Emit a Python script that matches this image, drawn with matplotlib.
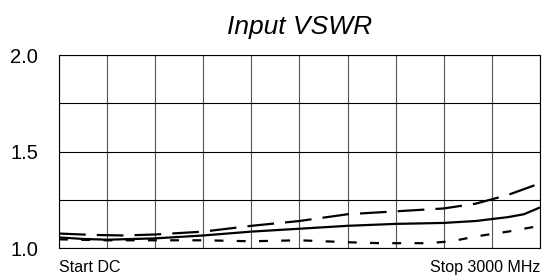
import matplotlib.pyplot as plt
import numpy as np

plt.rc('font', family='Liberation Sans')

# frequency in MHz
f_solid  = [0, 150, 300, 600, 900, 1200, 1500, 1800, 2100, 2400, 2600, 2800, 2900, 3000]
v_solid  = [1.055, 1.047, 1.043, 1.05, 1.065, 1.085, 1.10, 1.115, 1.125, 1.13, 1.14, 1.16, 1.175, 1.21]

f_dash   = [0, 200, 400, 600, 900, 1200, 1500, 1800, 2100, 2400, 2600, 2800, 3000]
v_dash   = [1.075, 1.068, 1.065, 1.07, 1.085, 1.115, 1.14, 1.175, 1.19, 1.205, 1.23, 1.275, 1.335]

f_dot    = [0, 300, 600, 900, 1200, 1500, 1800, 2000, 2300, 2450, 2600, 2800, 3000]
v_dot    = [1.045, 1.04, 1.04, 1.04, 1.035, 1.04, 1.03, 1.025, 1.025, 1.035, 1.06, 1.085, 1.115]

yticks      = [1.0, 1.25, 1.5, 1.75, 2.0]
yticklabels = ['1.0', '', '1.5', '', '2.0']

fig = plt.figure(figsize=(5.44, 2.76), dpi=100)
ax = fig.add_axes([0.1085, 0.1014, 0.8841, 0.6993])

ax.plot(f_solid, v_solid, color='k', lw=1.6, solid_capstyle='butt')
ax.plot(f_dash, v_dash, color='k', lw=1.6, dashes=(12, 5))
ax.plot(f_dot, v_dot, color='k', lw=1.6, dashes=(4, 6))

ax.set_xlim(0, 3000)
ax.set_ylim(1.0, 2.0)
ax.set_xticks(np.linspace(0, 3000, 11))
ax.set_xticklabels([])
ax.set_yticks(yticks)
ax.set_yticklabels(yticklabels, fontsize=14.5)
ax.tick_params(length=0, pad=15)
ax.grid(True, color='k', lw=0.8)
ax.xaxis.grid(True, color='#555555', lw=0.8)
for s in ax.spines.values():
    s.set_linewidth(0.8)

ax.set_title('Input VSWR', fontsize=19, style='italic', pad=15)
ax.text(0.0, -0.06, 'Start DC', transform=ax.transAxes, ha='left', va='top', fontsize=11.5)
ax.text(1.0, -0.06, 'Stop 3000 MHz', transform=ax.transAxes, ha='right', va='top', fontsize=11.5)

plt.savefig('out.png', dpi=100)
